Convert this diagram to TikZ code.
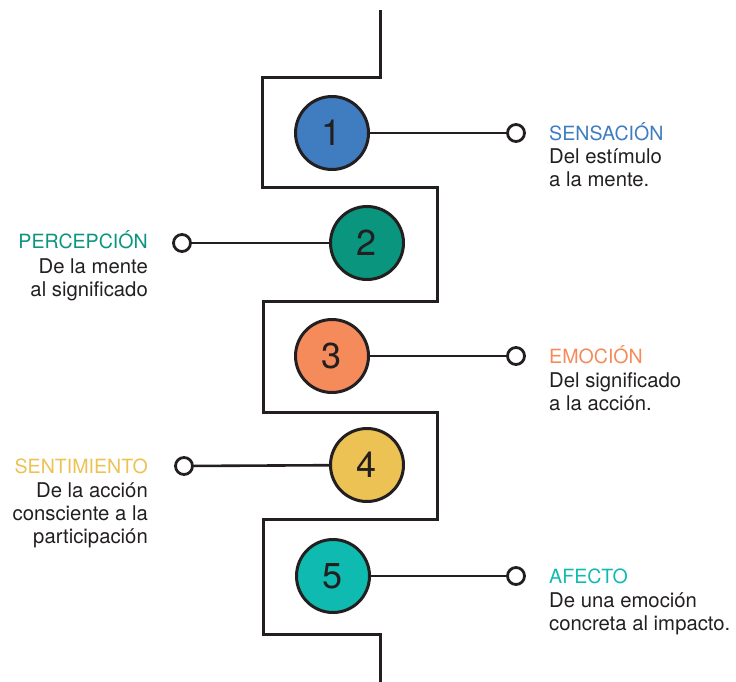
\documentclass[tikz,border=0pt]{standalone}
\usepackage{fontspec}
\setmainfont{TeX Gyre Heros}
\usetikzlibrary{calc}
\definecolor{ink}{HTML}{231F20}
\definecolor{sensblue}{HTML}{3F7CC0}
\definecolor{percgreen}{HTML}{0A957E}
\definecolor{emoorange}{HTML}{F58B5B}
\definecolor{sentyellow}{HTML}{EDC254}
\definecolor{afecteal}{HTML}{0FBAB1}

\begin{document}
\begin{tikzpicture}[x=1pt, y=-1pt,
      track/.style={ink, line width=3pt},
      stage/.style={circle, draw=ink, line width=3pt, minimum size=73pt,
                    inner sep=0pt, text=ink, font=\fontsize{36}{36}\selectfont},
      pin/.style={circle, draw=ink, fill=white, line width=2.8pt,
                  minimum size=17pt, inner sep=0pt},
      link/.style={ink, line width=2.6pt},
      title/.style={inner sep=0pt, font=\fontsize{19.6}{23}\selectfont},
      desc/.style={inner sep=0pt, text=ink, font=\fontsize{20.3}{23}\selectfont}
      ]
      \useasboundingbox (0,0) rectangle (736,682);

      % zigzag track
      \draw[track] (380,10) -- (380,78) -- (262,78) -- (262,187) -- (437,187)
                   -- (437,301) -- (263,301) -- (263,412) -- (437,412)
                   -- (437,519) -- (263,519) -- (263,634) -- (380,634) -- (380,682);

      % stages
      \node[stage, fill=sensblue]   (S1) at (332,133) {1};
      \node[stage, fill=percgreen]  (S2) at (367,243) {2};
      \node[stage, fill=emoorange]  (S3) at (332,356) {3};
      \node[stage, fill=sentyellow] (S4) at (367,465) {4};
      \node[stage, fill=afecteal]   (S5) at (333,576) {5};

      % pins
      \node[pin] (P1) at (516,133) {};
      \node[pin] (P2) at (182,243) {};
      \node[pin] (P3) at (516,356) {};
      \node[pin] (P4) at (184,466) {};
      \node[pin] (P5) at (516,576) {};

      \draw[link] (S1) -- (P1);
      \draw[link] (S2) -- (P2);
      \draw[link] (S3) -- (P3);
      \draw[link] (S4) -- (P4);
      \draw[link] (S5) -- (P5);

      % labels, right side
      \node[title, text=sensblue, anchor=base west] (T1) at (549,140) {SENSACIÓN};
      \node[desc, align=left, anchor=north west] (D1) at ($(T1.base west)+(0,9)$)
            {Del estímulo\\a la mente.};
      \node[title, text=emoorange, anchor=base west] (T3) at (549,363) {EMOCIÓN};
      \node[desc, align=left, anchor=north west] (D3) at ($(T3.base west)+(0,9)$)
            {Del significado\\a la acción.};
      \node[title, text=afecteal, anchor=base west] (T5) at (549,583) {AFECTO};
      \node[desc, align=left, anchor=north west] (D5) at ($(T5.base west)+(0,9)$)
            {De una emoción\\concreta al impacto.};

      % labels, left side
      \node[title, text=percgreen, anchor=base east] (T2) at (148,248) {PERCEPCIÓN};
      \node[desc, align=right, anchor=north east] (D2) at ($(T2.base east)+(0,10)$)
            {De la mente\\al significado};
      \node[title, text=sentyellow, anchor=base east] (T4) at (148,473) {SENTIMIENTO};
      \node[desc, align=right, anchor=north east] (D4) at ($(T4.base east)+(0,9)$)
            {De la acción\\consciente a la\\participación};
\end{tikzpicture}
\end{document}
